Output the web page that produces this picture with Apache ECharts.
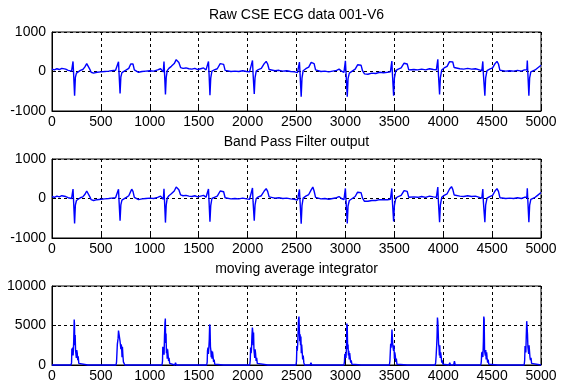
<!DOCTYPE html>
<html>
<head>
<meta charset="utf-8">
<script src="https://cdn.jsdelivr.net/npm/echarts@6/dist/echarts.min.js"></script>
<style>
html,body{margin:0;padding:0;background:#fff;}
#chart{width:566px;height:387px;}
</style>
</head>
<body>
<div id="chart"></div>
<script>
// ---- data ----
const titles = ['Raw CSE ECG data 001-V6', 'Band Pass Filter output', 'moving average integrator'];
const xTicks = [0, 500, 1000, 1500, 2000, 2500, 3000, 3500, 4000, 4500, 5000];
const ecgTicks = [-1000, 0, 1000];
const integTicks = [0, 5000, 10000];

const rawPts = [
  [0,60],[25,40],[50,70],[75,50],[100,80],[120,100],[140,60],[165,30],[185,20],[200,10],
  [207,-10],[215,255],[221,-60],[231,-610],[239,-150],[250,-40],[265,10],[290,30],[315,50],[335,110],[355,200],[363,220],[375,180],[390,40],[400,-20],[425,-40],[460,-20],[500,-10],[540,0],[580,10],[610,20],[630,0],[650,30],[668,0],
  [672,-10],[680,245],[686,-70],[696,-555],[704,-140],[715,-30],[735,20],[760,40],[785,80],[805,190],[815,240],[828,190],[842,40],[855,-10],[885,-20],[920,0],[960,10],[1000,20],[1040,10],[1080,40],[1110,70],[1130,30],
  [1138,-10],[1145,255],[1151,-60],[1160,-580],[1168,-150],[1178,20],[1195,80],[1220,130],[1250,200],[1270,300],[1283,325],[1297,230],[1315,100],[1340,80],[1370,90],[1400,70],[1430,60],[1460,80],[1490,50],[1520,70],[1550,90],[1575,40],[1590,30],
  [1594,0],[1600,255],[1606,-70],[1615,-600],[1623,-170],[1635,10],[1660,40],[1690,70],[1720,200],[1740,240],[1755,180],[1770,30],[1790,-10],[1830,0],[1870,10],[1910,0],[1950,20],[1990,0],[2020,-10],[2040,-20],
  [2045,-30],[2050,280],[2056,-60],[2068,-570],[2076,-160],[2088,10],[2110,50],[2140,80],[2170,200],[2190,255],[2205,190],[2220,50],[2240,0],[2280,20],[2320,30],[2360,10],[2400,20],[2440,0],[2480,-10],[2510,-30],[2525,-40],
  [2530,240],[2537,-80],[2548,-640],[2556,-170],[2568,20],[2595,70],[2625,110],[2650,230],[2667,280],[2680,200],[2695,40],[2715,-10],[2750,0],[2790,10],[2830,-10],[2870,10],[2910,30],[2935,60],[2960,10],[2985,-20],[2995,-40],
  [3000,270],[3007,-60],[3019,-640],[3027,-180],[3040,-40],[3070,10],[3100,60],[3125,170],[3145,215],[3160,160],[3175,20],[3195,-60],[3230,-70],[3270,-40],[3310,-50],[3350,-20],[3390,-30],[3430,-20],[3460,-10],[3470,-30],
  [3475,265],[3481,-70],[3493,-615],[3501,-170],[3515,20],[3540,60],[3570,90],[3600,210],[3619,255],[3632,190],[3648,40],[3665,30],[3700,50],[3740,40],[3780,60],[3820,40],[3860,70],[3900,50],[3930,40],[3940,20],
  [3945,310],[3951,-60],[3963,-580],[3971,-160],[3985,40],[4010,90],[4040,130],[4065,250],[4085,300],[4098,240],[4112,100],[4130,60],[4170,70],[4210,60],[4250,80],[4290,60],[4330,70],[4370,40],[4395,20],[4400,0],
  [4405,255],[4411,-70],[4426,-615],[4434,-160],[4448,20],[4475,60],[4505,90],[4530,200],[4550,255],[4565,190],[4580,30],[4600,-10],[4640,10],[4680,20],[4720,10],[4760,30],[4800,10],[4830,40],[4850,60],[4855,40],
  [4860,280],[4866,-60],[4876,-615],[4884,-160],[4896,-10],[4915,0],[4940,40],[4965,90],[4985,130],[5000,160]
];

const bpPts = [
  [0,50],[25,30],[50,60],[75,40],[100,70],[120,90],[140,50],[165,20],[185,10],[200,0],
  [207,-20],[215,240],[221,-80],[231,-630],[239,-170],[250,-50],[265,0],[290,20],[315,40],[335,100],[355,190],[363,215],[375,170],[390,30],[400,-30],[425,-50],[460,-30],[500,-20],[540,-10],[580,0],[610,10],[630,-10],[650,20],[668,-10],
  [672,-20],[680,235],[686,-90],[696,-560],[704,-160],[715,-40],[735,10],[760,30],[785,70],[805,180],[815,235],[828,180],[842,30],[855,-20],[885,-30],[920,-10],[960,0],[1000,10],[1040,0],[1080,30],[1110,60],[1130,20],
  [1138,-20],[1145,245],[1151,-80],[1160,-610],[1168,-170],[1178,10],[1195,70],[1220,120],[1250,190],[1270,290],[1283,315],[1297,220],[1315,90],[1340,70],[1370,80],[1400,60],[1430,50],[1460,70],[1490,40],[1520,60],[1550,80],[1575,30],[1590,20],
  [1594,-10],[1600,240],[1606,-90],[1615,-590],[1623,-180],[1635,0],[1660,30],[1690,60],[1720,190],[1740,235],[1755,170],[1770,20],[1790,-20],[1830,-10],[1870,0],[1910,-10],[1950,10],[1990,-10],[2020,-20],[2040,-30],
  [2045,-40],[2050,265],[2056,-80],[2068,-560],[2076,-170],[2088,0],[2110,40],[2140,70],[2170,190],[2190,250],[2205,180],[2220,40],[2240,-10],[2280,10],[2320,20],[2360,0],[2400,10],[2440,-10],[2480,-20],[2510,-40],[2525,-50],
  [2530,230],[2537,-100],[2548,-640],[2556,-180],[2568,10],[2595,60],[2625,100],[2650,220],[2667,290],[2680,190],[2695,30],[2715,-20],[2750,-10],[2790,0],[2830,-20],[2870,0],[2910,20],[2935,50],[2960,0],[2985,-30],[2995,-50],
  [3000,255],[3007,-80],[3019,-630],[3027,-190],[3040,-50],[3070,0],[3100,50],[3125,160],[3145,205],[3160,150],[3175,10],[3195,-70],[3230,-70],[3270,-50],[3310,-50],[3350,-30],[3390,-30],[3430,-30],[3460,-20],[3470,-40],
  [3475,255],[3481,-90],[3493,-580],[3501,-180],[3515,10],[3540,50],[3570,80],[3600,200],[3619,250],[3632,180],[3648,30],[3665,20],[3700,40],[3740,30],[3780,50],[3820,30],[3860,60],[3900,40],[3930,30],[3940,10],
  [3945,290],[3951,-80],[3963,-600],[3971,-170],[3985,30],[4010,80],[4040,120],[4065,240],[4085,300],[4098,230],[4112,90],[4130,50],[4170,60],[4210,50],[4250,70],[4290,50],[4330,60],[4370,30],[4395,10],[4400,-10],
  [4405,240],[4411,-90],[4426,-600],[4434,-170],[4448,10],[4475,50],[4505,80],[4530,190],[4550,250],[4565,180],[4580,20],[4600,-20],[4640,0],[4680,10],[4720,0],[4760,20],[4800,0],[4830,30],[4850,50],[4855,30],
  [4860,260],[4866,-80],[4876,-600],[4884,-170],[4896,-20],[4915,-10],[4940,30],[4965,80],[4985,120],[5000,150]
];

const integPts = [
  [0,0],
  [195,0],[200,300],[203,2100],[208,1700],[212,2200],[216,1200],[222,3000],[227,5750],[230,5200],[233,2500],[237,3800],[241,1800],[245,2000],[249,900],[253,1900],[258,1500],[263,600],[268,1100],[274,200],[280,0],
  [366,0],[374,200],[382,0],
  [655,0],[660,400],[664,1500],[668,2600],[672,2400],[676,3400],[680,4370],[686,4300],[692,4370],[696,3000],[700,3200],[704,2000],[708,2600],[712,2200],[716,1000],[720,2300],[725,1200],[730,400],[738,200],[745,0],
  [825,0],[833,250],[841,0],
  [1125,0],[1130,500],[1133,2300],[1138,1600],[1142,2200],[1146,1300],[1150,3500],[1155,5300],[1159,5880],[1162,2800],[1166,4000],[1170,1500],[1174,2100],[1178,800],[1182,2000],[1187,1300],[1192,500],[1197,900],[1203,200],[1210,0],
  [1255,0],[1263,300],[1271,0],[1299,0],[1307,200],[1315,0],
  [1582,0],[1587,400],[1590,1800],[1595,2200],[1599,1400],[1603,2000],[1608,3200],[1612,5130],[1616,4800],[1620,2300],[1624,1900],[1628,1000],[1632,1800],[1636,800],[1641,1700],[1646,1200],[1652,400],[1658,700],[1664,100],[1670,0],
  [1755,0],[1763,100],[1771,0],
  [2022,0],[2027,600],[2031,2200],[2036,1500],[2040,2100],[2044,3600],[2049,4750],[2053,4200],[2057,2500],[2061,4100],[2065,1900],[2069,2000],[2073,900],[2077,2000],[2082,1400],[2087,500],[2093,900],[2099,200],[2106,0],
  [2207,0],[2215,150],[2223,0],
  [2495,0],[2500,500],[2504,2400],[2508,1800],[2512,2600],[2516,4000],[2520,5600],[2525,6130],[2529,5900],[2533,3000],[2537,3900],[2541,2500],[2545,3600],[2549,1500],[2553,2600],[2558,1700],[2563,700],[2569,1200],[2575,300],[2582,0],
  [2640,0],[2648,300],[2656,0],[2677,0],[2685,250],[2693,0],[2911,0],[2919,100],[2927,0],
  [2985,0],[2990,400],[2994,1400],[2998,1000],[3002,1500],[3006,900],[3011,2200],[3015,5250],[3019,4900],[3023,2000],[3027,2600],[3031,1200],[3035,1800],[3039,700],[3044,1500],[3049,900],[3054,300],[3060,600],[3066,100],[3072,0],
  [3162,0],[3170,100],[3178,0],
  [3450,0],[3455,500],[3459,1600],[3463,2700],[3467,2200],[3471,2800],[3476,4500],[3481,4300],[3485,2400],[3489,2600],[3493,1800],[3497,2500],[3501,800],[3505,1600],[3510,1200],[3515,400],[3521,800],[3527,100],[3534,0],
  [3633,0],[3641,200],[3649,0],
  [3918,0],[3923,300],[3928,1200],[3933,2400],[3937,3600],[3941,6000],[3945,5500],[3949,4200],[3953,2600],[3957,2300],[3961,1200],[3965,2500],[3969,900],[3974,1600],[3979,1100],[3985,300],[3991,600],[3997,100],[4004,0],
  [4059,0],[4067,300],[4075,0],[4107,0],[4115,500],[4123,0],
  [4385,0],[4390,500],[4394,1600],[4398,1100],[4402,1700],[4406,1000],[4411,3000],[4415,6130],[4419,5800],[4423,1800],[4427,2000],[4431,1200],[4435,1900],[4439,700],[4444,1600],[4449,900],[4454,300],[4460,700],[4466,100],[4472,0],
  [4559,0],[4567,200],[4575,0],
  [4828,0],[4833,600],[4837,2400],[4841,2300],[4845,1600],[4849,3500],[4854,5550],[4858,5400],[4862,3900],[4866,2300],[4870,2500],[4874,1400],[4878,2500],[4882,2400],[4887,1000],[4892,600],[4898,900],[4904,200],[4911,0],
  [5000,0]
];

// ---- chart ----
const FONT = 'Liberation Sans, Arial, Helvetica, sans-serif';
const FS = 14;
const plotLeft = 52, plotRight = 25, plotH = 79;
const plotTops = [32, 159, 286];
const titleTops = [8, 135, 262];
const chart = echarts.init(document.getElementById('chart'), null, {renderer: 'canvas'});

const gridLine = {show: true, lineStyle: {color: '#000', type: [3, 3], width: 1}};
const plain = v => String(v);
function xAx(i) {
  return {
    type: 'value', gridIndex: i, min: xTicks[0], max: xTicks[xTicks.length - 1],
    interval: xTicks[1] - xTicks[0],
    axisLine: {show: true, onZero: false, lineStyle: {color: '#000', width: 1}},
    axisTick: {show: true, inside: true, length: 4, lineStyle: {color: '#000'}},
    axisLabel: {color: '#000', fontSize: FS, fontFamily: FONT, margin: 4, formatter: plain},
    splitLine: gridLine
  };
}
function yAx(i, ticks) {
  return {
    type: 'value', gridIndex: i, min: ticks[0], max: ticks[ticks.length - 1],
    interval: ticks[1] - ticks[0],
    axisLine: {show: true, onZero: false, lineStyle: {color: '#000', width: 1}},
    axisTick: {show: true, inside: true, length: 4, lineStyle: {color: '#000'}},
    axisLabel: {color: '#000', fontSize: FS, fontFamily: FONT, margin: 6, formatter: plain},
    splitLine: gridLine
  };
}
function lineSeries(i, pts) {
  return {
    type: 'line', xAxisIndex: i, yAxisIndex: i, data: pts, showSymbol: false,
    symbol: 'none', clip: false, animation: false,
    lineStyle: {color: '#0000ff', width: 1.4}
  };
}

chart.setOption({
  backgroundColor: '#fff',
  animation: false,
  title: titles.map((t, i) => ({
    text: t, left: plotLeft + (566 - plotLeft - plotRight) / 2, top: titleTops[i], textAlign: 'center', padding: 0,
    textStyle: {color: '#000', fontSize: FS, fontWeight: 'normal', fontFamily: FONT}
  })),
  grid: plotTops.map(t => ({
    left: plotLeft, right: plotRight, top: t, height: plotH,
    show: true, borderColor: '#000', borderWidth: 1, backgroundColor: 'transparent', containLabel: false
  })),
  xAxis: [xAx(0), xAx(1), xAx(2)],
  yAxis: [yAx(0, ecgTicks), yAx(1, ecgTicks), yAx(2, integTicks)],
  series: [lineSeries(0, rawPts), lineSeries(1, bpPts), lineSeries(2, integPts)]
});
</script>
</body>
</html>
